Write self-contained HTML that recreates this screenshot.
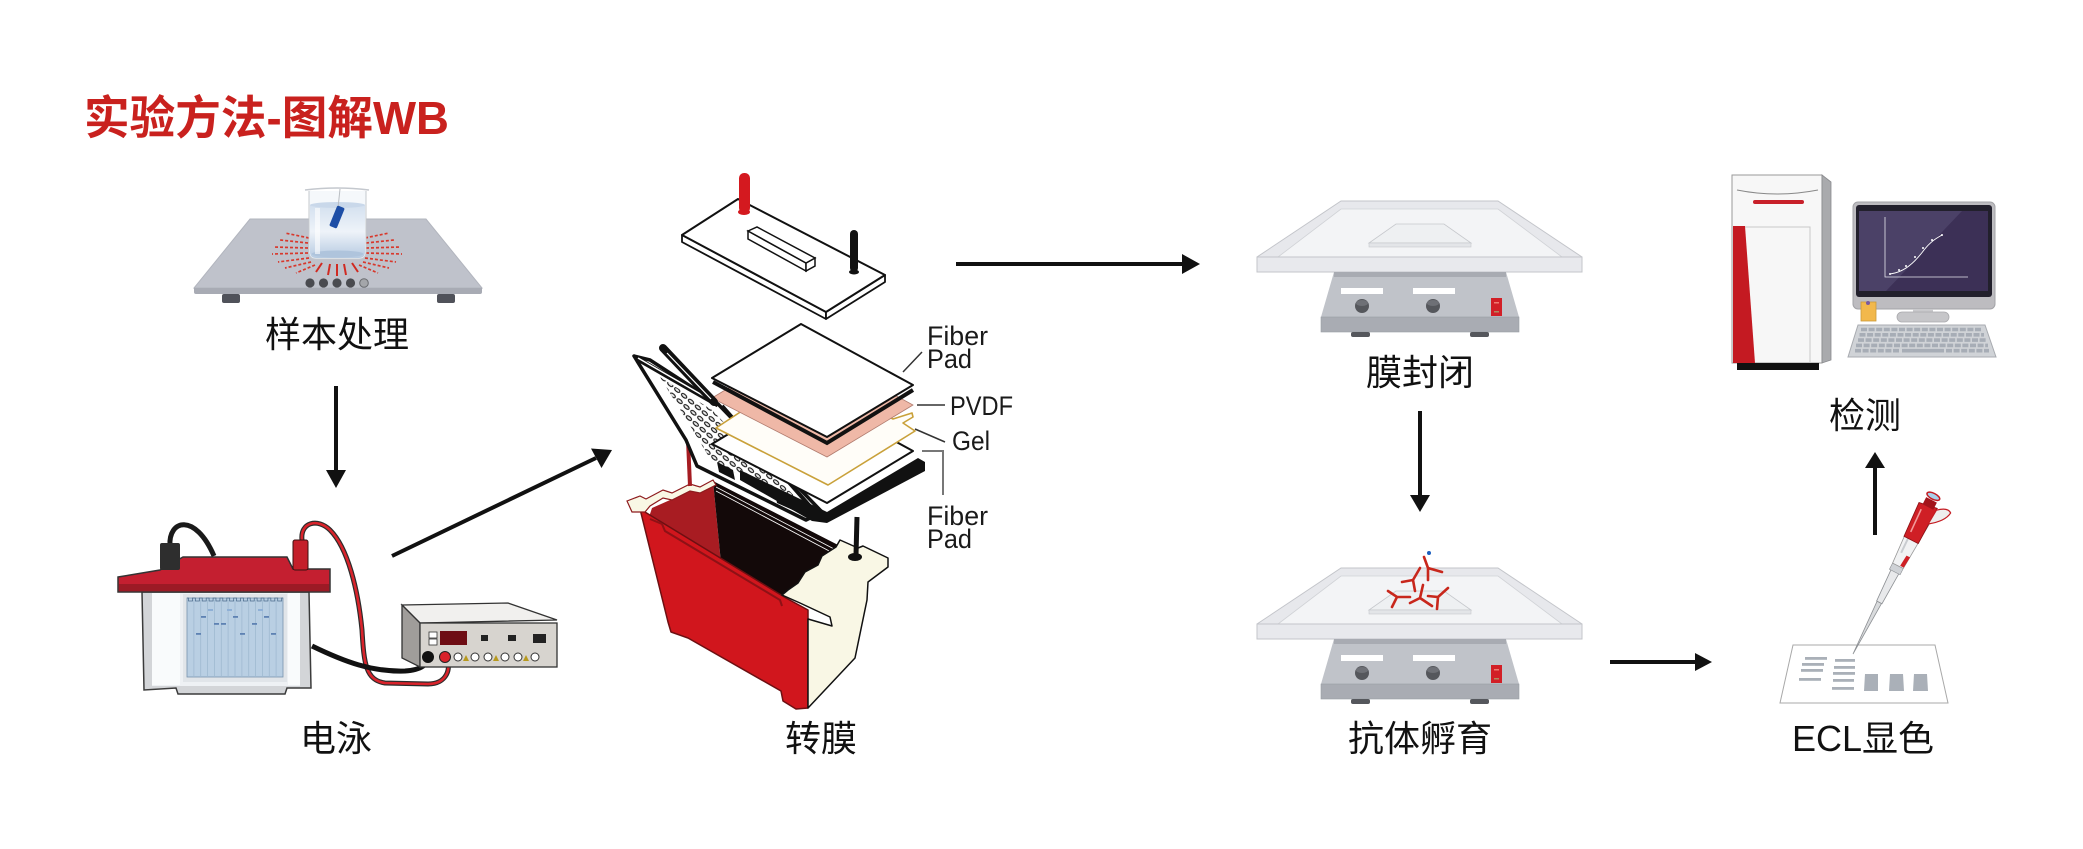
<!DOCTYPE html>
<html><head><meta charset="utf-8">
<style>
html,body{margin:0;padding:0;background:#fff;}
svg{display:block;}
text{font-family:"Liberation Sans","Noto Sans CJK SC",sans-serif;}
.lbl{font-size:36px;fill:#111;text-anchor:middle;}
.sm{font-size:27px;fill:#1a1a1a;}
</style></head><body>
<svg width="2083" height="849" viewBox="0 0 2083 849" xmlns="http://www.w3.org/2000/svg">
<defs>
<linearGradient id="water" x1="0" y1="0" x2="0" y2="1">
<stop offset="0" stop-color="#d3e0ef"/><stop offset="0.5" stop-color="#eef3f9"/><stop offset="1" stop-color="#b6cae1"/>
</linearGradient>
<pattern id="holes" width="9" height="7" patternUnits="userSpaceOnUse" patternTransform="rotate(40)">
<ellipse cx="4.5" cy="3.5" rx="3.2" ry="1.6" fill="#e8e8e8" stroke="#111" stroke-width="1"/>
</pattern>
</defs>

<!-- Title -->
<text x="84" y="134" font-size="46" font-weight="700" fill="#c9211e" textLength="365" lengthAdjust="spacingAndGlyphs">实验方法-图解WB</text>

<!-- ============ Hot plate ============ -->
<polygon points="250,219 426,219 482,288 194,288" fill="#bfc2cb" stroke="#b2b5be" stroke-width="1"/>
<path d="M194,288 L482,288 L482,292 Q482,294 480,294 L196,294 Q194,294 194,292 Z" fill="#a8abb4"/>
<rect x="222" y="294" width="18" height="9" rx="2" fill="#50525a"/>
<rect x="437" y="294" width="18" height="9" rx="2" fill="#50525a"/>
<g fill="#4a4b50"><circle cx="310" cy="283" r="4.6"/><circle cx="323.5" cy="283" r="4.6"/><circle cx="337" cy="283" r="4.6"/><circle cx="350.5" cy="283" r="4.6"/></g>
<circle cx="364" cy="283" r="4.3" fill="#a4a6aa" stroke="#6a6c70" stroke-width="1"/>
<g stroke="#d8382c" stroke-width="1.7" stroke-dasharray="3 2">
<line x1="309" y1="238" x2="285" y2="233"/><line x1="308" y1="243" x2="280" y2="240"/><line x1="308" y1="248" x2="273" y2="247"/><line x1="308" y1="253" x2="272" y2="254"/><line x1="309" y1="258" x2="278" y2="262"/><line x1="311" y1="262" x2="285" y2="268"/><line x1="315" y1="265" x2="296" y2="273"/>
<line x1="365" y1="238" x2="389" y2="233"/><line x1="366" y1="243" x2="394" y2="240"/><line x1="366" y1="248" x2="401" y2="247"/><line x1="366" y1="253" x2="402" y2="254"/><line x1="365" y1="258" x2="396" y2="262"/><line x1="363" y1="262" x2="389" y2="268"/><line x1="359" y1="265" x2="378" y2="273"/>
</g>
<g stroke="#d02a22" stroke-width="2">
<line x1="322" y1="263" x2="316" y2="272"/><line x1="330" y1="264" x2="328" y2="275"/><line x1="337" y1="264" x2="337" y2="276"/><line x1="344" y1="264" x2="346" y2="275"/><line x1="352" y1="263" x2="358" y2="272"/>
</g>
<!-- beaker -->
<path d="M309,191 L309,252 Q309,259 316,259 L359,259 Q366,259 366,252 L366,191" fill="#f5f8fb" stroke="#c4c8ce" stroke-width="1"/>
<path d="M310,205 L310,252 Q310,258 316,258 L359,258 Q365,258 365,252 L365,205 Z" fill="url(#water)"/>
<ellipse cx="337.5" cy="205" rx="27.5" ry="3" fill="#c9d8ea"/>
<ellipse cx="337.5" cy="254" rx="26" ry="3.5" fill="#afc4dc"/>
<rect x="315" y="208" width="5" height="46" fill="#fff" opacity="0.6"/>
<line x1="340" y1="189" x2="338" y2="208" stroke="#b9bdc2" stroke-width="1"/>
<path d="M305,190 Q337,186 369,190" fill="none" stroke="#c4c8ce" stroke-width="1.6"/>
<rect x="-4" y="-11" width="8" height="22" rx="1.5" fill="#1d4ea6" transform="translate(337,217) rotate(22)"/>
<text class="lbl" x="337" y="347">样本处理</text>

<!-- arrow down 1 -->
<line x1="336" y1="386" x2="336" y2="472" stroke="#111" stroke-width="4"/>
<polygon points="326,470 346,470 336,488" fill="#111"/>

<!-- ============ Electrophoresis ============ -->
<path d="M170,546 C168,520 195,512 214,556" fill="none" stroke="#1a1a1a" stroke-width="5"/>
<path d="M302,540 C300,522 318,518 330,530 C348,548 358,590 362,630 C364,665 366,680 385,683 L428,684 C447,684 452,668 446,657" fill="none" stroke="#2b2b2b" stroke-width="5"/>
<path d="M302,540 C300,522 318,518 330,530 C348,548 358,590 362,630 C364,665 366,680 385,683 L428,684 C447,684 452,668 446,657" fill="none" stroke="#d9232b" stroke-width="2.6"/>
<!-- tank -->
<path d="M142,592 L309,592 L311,688 L287,688 L285,694 L178,694 L176,688 L144,690 Z" fill="#d3d5d8" stroke="#3b3b3b" stroke-width="1.5"/>
<rect x="152" y="593" width="148" height="93" fill="#eef1f4"/>
<rect x="152" y="593" width="28" height="92" fill="#f9fbfc"/>
<rect x="288" y="593" width="12" height="92" fill="#f9fbfc"/>
<rect x="183" y="594" width="104" height="88" fill="#e1e5e9"/>
<rect x="187" y="598" width="96" height="79" fill="#b9cfe3" stroke="#7893ad" stroke-width="0.8"/>
<g stroke="#9fb9d1" stroke-width="0.8">
<line x1="193.9" y1="600" x2="193.9" y2="677"/><line x1="200.7" y1="600" x2="200.7" y2="677"/><line x1="207.6" y1="600" x2="207.6" y2="677"/><line x1="214.4" y1="600" x2="214.4" y2="677"/><line x1="221.3" y1="600" x2="221.3" y2="677"/><line x1="228.1" y1="600" x2="228.1" y2="677"/><line x1="235" y1="600" x2="235" y2="677"/><line x1="241.9" y1="600" x2="241.9" y2="677"/><line x1="248.7" y1="600" x2="248.7" y2="677"/><line x1="255.6" y1="600" x2="255.6" y2="677"/><line x1="262.4" y1="600" x2="262.4" y2="677"/><line x1="269.3" y1="600" x2="269.3" y2="677"/><line x1="276.1" y1="600" x2="276.1" y2="677"/>
</g>
<path d="M187,598 h1.5 v3 h4 v-3 h1.36 h1.5 v3 h4 v-3 h1.36 h1.5 v3 h4 v-3 h1.36 h1.5 v3 h4 v-3 h1.36 h1.5 v3 h4 v-3 h1.36 h1.5 v3 h4 v-3 h1.36 h1.5 v3 h4 v-3 h1.36 h1.5 v3 h4 v-3 h1.36 h1.5 v3 h4 v-3 h1.36 h1.5 v3 h4 v-3 h1.36 h1.5 v3 h4 v-3 h1.36 h1.5 v3 h4 v-3 h1.36 h1.5 v3 h4 v-3 h1.36 h1.5 v3 h4 v-3 h1.36" fill="none" stroke="#4f6f8f" stroke-width="0.8"/>
<g fill="#5e82b3">
<rect x="201" y="616" width="5" height="1.8"/><rect x="208" y="609" width="5" height="2" fill="#8fb0d6"/><rect x="214" y="623" width="5" height="1.8"/><rect x="221" y="623" width="5" height="1.8"/><rect x="227" y="609" width="5" height="2" fill="#8fb0d6"/><rect x="233" y="616" width="5" height="1.8"/><rect x="240" y="633" width="5" height="1.8"/><rect x="252" y="623" width="5" height="1.8"/><rect x="258" y="609" width="5" height="2" fill="#8fb0d6"/><rect x="264" y="616" width="5" height="1.8"/><rect x="271" y="633" width="5" height="1.8"/><rect x="196" y="633" width="5" height="1.8"/>
</g>
<!-- lid -->
<polygon points="118,577 160,570 183,557 287,557 293,569 330,569 330,592 118,592" fill="#c41f30" stroke="#333" stroke-width="1.5"/>
<polygon points="119,584 329,584 329,591 119,591" fill="#9c1a25"/>
<rect x="160" y="543" width="20" height="27" rx="2" fill="#2e2e2e"/>
<rect x="293" y="540" width="15" height="30" rx="2" fill="#c41f2a" stroke="#3a1010" stroke-width="1"/>
<!-- black lower cable -->
<path d="M312,646 C345,662 372,672 405,671 C422,670 428,664 428,657" fill="none" stroke="#111" stroke-width="5"/>
<!-- power supply -->
<polygon points="402,605 508,603 557,620 420,623" fill="#f1f0ee" stroke="#333" stroke-width="1.3"/>
<polygon points="402,605 420,623 420,667 402,658" fill="#a09d9a" stroke="#333" stroke-width="1.3"/>
<rect x="420" y="623" width="137" height="44" fill="#d7d4cf" stroke="#333" stroke-width="1.3"/>
<rect x="440" y="631" width="27" height="14" fill="#6e0d14"/>
<rect x="429" y="632" width="8" height="6" fill="#fff" stroke="#333" stroke-width="0.8"/>
<rect x="429" y="639" width="8" height="6" fill="#fff" stroke="#333" stroke-width="0.8"/>
<rect x="481" y="635" width="7" height="6" fill="#222"/>
<rect x="508" y="635" width="8" height="6" fill="#222"/>
<rect x="533" y="634" width="13" height="9" fill="#222"/>
<g fill="#fff" stroke="#333" stroke-width="1">
<circle cx="458" cy="657" r="4"/><circle cx="475" cy="657" r="4"/><circle cx="488" cy="657" r="4"/><circle cx="505" cy="657" r="4"/><circle cx="518" cy="657" r="4"/><circle cx="535" cy="657" r="4"/>
</g>
<g fill="#b89a20"><polygon points="463,661 469,661 466,655"/><polygon points="493,661 499,661 496,655"/><polygon points="523,661 529,661 526,655"/></g>
<circle cx="428" cy="657" r="6" fill="#111"/>
<circle cx="445" cy="657" r="5.5" fill="#d9232b" stroke="#222" stroke-width="1"/>
<text class="lbl" x="336" y="751">电泳</text>

<!-- diagonal arrow -->
<line x1="392" y1="556" x2="596" y2="458" stroke="#111" stroke-width="4"/>
<polygon points="612,450 601.5,468 591,448.5" fill="#111"/>

<!-- ============ Transfer ============ -->
<!-- lid plate -->
<polygon points="682,235 826,312 826,319 682,242" fill="#fff" stroke="#111" stroke-width="1.8" stroke-linejoin="round"/>
<polygon points="826,312 885,275 885,282 826,319" fill="#fff" stroke="#111" stroke-width="1.8" stroke-linejoin="round"/>
<polygon points="682,235 738,199 885,275 826,312" fill="#fff" stroke="#111" stroke-width="2" stroke-linejoin="round"/>
<polygon points="748,239 806,271 806,263 748,231" fill="#fff" stroke="#111" stroke-width="1.5"/>
<polygon points="806,263 815,258 815,266 806,271" fill="#fff" stroke="#111" stroke-width="1.5"/>
<polygon points="748,231 757,227 815,258 806,263" fill="#fff" stroke="#111" stroke-width="1.5"/>
<ellipse cx="744" cy="212" rx="6" ry="3" fill="#d4191f"/>
<rect x="739" y="173" width="11" height="40" rx="5" fill="#d4191f"/>
<ellipse cx="854" cy="272" rx="5" ry="2.5" fill="#111"/>
<rect x="850" y="230" width="8" height="42" rx="4" fill="#111"/>

<!-- tank -->
<polygon points="652,508 713,481 721,563 786,600 648,520" fill="#a81c22"/>
<polygon points="713,481 842,547 786,597 721,563" fill="#130909"/>
<polyline points="716,487 836,550" fill="none" stroke="#fff" stroke-width="0.8"/>
<polyline points="716,491 833,553" fill="none" stroke="#fff" stroke-width="0.8"/>
<polygon points="640,509 786,598 808,610 808,708 796,709 783,701 781,691 688,638 671,632 668,622" fill="#d1161d" stroke="#6d0f12" stroke-width="1.5" stroke-linejoin="round"/>
<polyline points="650,519 662,524 665,531 780,600 782,606" fill="none" stroke="#8e1116" stroke-width="2"/>
<polygon points="782,595 800,603 830,617 832,626 808,619 808,708 855,658 867,600 868,582 888,567 888,558 863,546 858,548 840,540 836,547 822,556 818,565 805,572 798,583 788,590" fill="#f9f7e5" stroke="#111" stroke-width="1.5" stroke-linejoin="round"/>
<ellipse cx="855" cy="557" rx="7" ry="4" fill="#111"/>
<polygon points="627,501 640,496 646,499 663,490 672,493 690,484 700,487 713,480 716,485 700,493 690,491 672,500 663,498 650,506 645,512 632,512" fill="#f9f7e5" stroke="#8d1a1d" stroke-width="1.2"/>
<line x1="688" y1="440" x2="690" y2="486" stroke="#a51c22" stroke-width="4"/>
<path d="M857,517 L856,555" stroke="#111" stroke-width="5" fill="none"/>

<!-- cassette flap -->
<polygon points="634,356 650,360 718,404 822,512 806,520 697,466 686,440" fill="#fff" stroke="#111" stroke-width="3.5" stroke-linejoin="round"/>
<polygon points="660,377 712,410 800,502 712,462 694,432" fill="url(#holes)"/>
<polygon points="717,462 733,470 735,480 719,472" fill="#111"/>
<polygon points="775,493 793,501 795,511 777,503" fill="#111"/>
<line x1="722" y1="406" x2="815" y2="512" stroke="#111" stroke-width="4"/>
<!-- bottom frame and pad -->
<polygon points="740,470 827,512 918,458 925,462 925,471 827,523 812,521 740,480" fill="#111"/>
<polygon points="712,444 801,390 913,451 827,503" fill="#fff" stroke="#111" stroke-width="2" stroke-linejoin="round"/>
<!-- gel -->
<polygon points="716,428 801,372 893,419 912,413 913,417 903,423 915,431 828,485" fill="#fffdf8" stroke="#c9a13a" stroke-width="1.6" stroke-linejoin="round"/>
<!-- PVDF -->
<polygon points="712,398 801,344 913,405 827,457" fill="#efb8a7" stroke="#b07b6e" stroke-width="0.8"/>
<!-- top pad -->
<polyline points="713,382 827,443 913,390" fill="none" stroke="#111" stroke-width="4"/>
<polygon points="712,378 801,324 913,385 827,437" fill="#fff" stroke="#111" stroke-width="2" stroke-linejoin="round"/>
<!-- handle strips -->
<line x1="636" y1="358" x2="718" y2="405" stroke="#111" stroke-width="5"/>
<line x1="638" y1="358" x2="716" y2="403" stroke="#fff" stroke-width="1.5"/>
<line x1="663" y1="348" x2="714" y2="402" stroke="#111" stroke-width="8" stroke-linecap="round"/>
<line x1="667" y1="353" x2="711" y2="399" stroke="#fff" stroke-width="1.2"/>

<!-- transfer labels -->
<line x1="903" y1="372" x2="922" y2="352" stroke="#333" stroke-width="1.5"/>
<line x1="917" y1="405" x2="945" y2="405" stroke="#333" stroke-width="1.5"/>
<line x1="915" y1="429" x2="945" y2="442" stroke="#333" stroke-width="1.5"/>
<polyline points="922,451 943,451 943,495" fill="none" stroke="#777" stroke-width="2"/>
<text class="sm" x="927" y="345" textLength="61" lengthAdjust="spacingAndGlyphs">Fiber</text>
<text class="sm" x="927" y="368" textLength="45" lengthAdjust="spacingAndGlyphs">Pad</text>
<text class="sm" x="950" y="415" textLength="63" lengthAdjust="spacingAndGlyphs">PVDF</text>
<text class="sm" x="952" y="450" textLength="38" lengthAdjust="spacingAndGlyphs">Gel</text>
<text class="sm" x="927" y="525" textLength="61" lengthAdjust="spacingAndGlyphs">Fiber</text>
<text class="sm" x="927" y="548" textLength="45" lengthAdjust="spacingAndGlyphs">Pad</text>
<text class="lbl" x="821" y="751">转膜</text>

<!-- top horizontal arrow -->
<line x1="956" y1="264" x2="1184" y2="264" stroke="#111" stroke-width="4"/>
<polygon points="1182,254 1200,264 1182,274" fill="#111"/>

<!-- ============ Shaker ============ -->
<g id="shaker">
<polygon points="1341,201 1498,201 1582,257 1582,272 1257,272 1257,257" fill="#e7e8ec" stroke="#c3c5ca" stroke-width="1"/>
<polygon points="1341,209 1498,209 1562,257 1278,257" fill="#f3f4f6" stroke="#d0d2d6" stroke-width="0.8"/>
<rect x="1257" y="257" width="325" height="15" fill="#e8e9ed" stroke="#c3c5ca" stroke-width="1"/>
<polygon points="1396,224 1444,224 1471,243 1369,243" fill="#eef0f2" stroke="#c6c8cc" stroke-width="0.8"/>
<rect x="1369" y="243" width="102" height="4" fill="#e3e5e8" stroke="#c6c8cc" stroke-width="0.6"/>
<polygon points="1334,272 1506,272 1519,317 1321,317" fill="#c0c3c9"/>
<rect x="1334" y="272" width="172" height="5" fill="#a8abb2"/>
<rect x="1321" y="317" width="198" height="15" fill="#a9acb3" stroke="#9a9da4" stroke-width="0.6"/>
<rect x="1341" y="288" width="42" height="6" fill="#fff"/>
<rect x="1413" y="288" width="42" height="6" fill="#fff"/>
<circle cx="1362" cy="306" r="7" fill="#55575c"/><ellipse cx="1362" cy="303" rx="6" ry="3" fill="#6e7076"/>
<circle cx="1433" cy="306" r="7" fill="#55575c"/><ellipse cx="1433" cy="303" rx="6" ry="3" fill="#6e7076"/>
<rect x="1491" y="298" width="11" height="18" fill="#d21f26"/>
<rect x="1494" y="302" width="5" height="1.5" fill="#f07a70"/><rect x="1494" y="311" width="5" height="1.5" fill="#b08a60"/>
<rect x="1351" y="332" width="19" height="5" rx="2" fill="#55575c"/>
<rect x="1470" y="332" width="19" height="5" rx="2" fill="#55575c"/>
</g>
<use href="#shaker" x="0" y="367"/>
<text class="lbl" x="1420" y="385">膜封闭</text>

<!-- arrow down 2 -->
<line x1="1420" y1="411" x2="1420" y2="497" stroke="#111" stroke-width="4"/>
<polygon points="1410,495 1430,495 1420,512" fill="#111"/>

<!-- antibodies -->
<g stroke="#c8271c" stroke-width="2.6" stroke-linecap="round" fill="none">
<path d="M1424,557 L1428,568 L1442,572 M1428,568 L1428,580"/>
<path d="M1420,568 L1413,580 L1402,582 M1413,580 L1415,591"/>
<path d="M1423,585 L1420,598 L1410,603 M1420,598 L1432,606"/>
<path d="M1388,591 L1397,597 L1410,597 M1397,597 L1392,607"/>
<path d="M1448,588 L1438,597 L1428,596 M1438,597 L1437,609"/>
</g>
<circle cx="1429" cy="553" r="2" fill="#1c5fbf"/>
<text class="lbl" x="1420" y="751">抗体孵育</text>

<!-- bottom horizontal arrow -->
<line x1="1610" y1="662" x2="1697" y2="662" stroke="#111" stroke-width="4"/>
<polygon points="1695,653 1712,662 1695,671" fill="#111"/>

<!-- ============ ECL ============ -->
<polygon points="1793,645 1935,645 1948,703 1780,703" fill="#fff" stroke="#a8a8a8" stroke-width="1"/>
<g fill="#aab0b8">
<rect x="1805" y="657" width="22" height="2.8"/><rect x="1802" y="663" width="22" height="2.8"/><rect x="1801" y="669" width="22" height="2.8"/><rect x="1799" y="678" width="22" height="2.8"/>
<rect x="1835" y="659" width="20" height="2.8"/><rect x="1834" y="666" width="21" height="2.8"/><rect x="1833" y="672" width="22" height="2.8"/><rect x="1833" y="679" width="21" height="2.8"/><rect x="1832" y="687" width="22" height="2.8"/>
<polygon points="1865,674 1878,674 1878,691 1864,691"/><polygon points="1890,674 1903,674 1904,691 1889,691"/><polygon points="1914,674 1927,674 1928,691 1913,691"/>
</g>
<g transform="translate(1853,654) rotate(-63)">
<polygon points="0,0 58,-2.5 58,2.5" fill="#d9dbdd" stroke="#8c8f93" stroke-width="0.8"/>
<polygon points="58,-3 95,-4.5 95,4.5 58,3" fill="#e8e9eb" stroke="#8c8f93" stroke-width="0.8"/>
<rect x="92" y="-6" width="7" height="12" fill="#cfd2d6" stroke="#8c8f93" stroke-width="0.6"/>
<path d="M99,-6 L150,-9 L150,9 L99,6 Z" fill="#f1f2f3" stroke="#999" stroke-width="0.8"/>
<path d="M100,2 L112,3 L112,7 L100,6 Z" fill="#cf1f25"/>
<path d="M112,-3 L148,-4" stroke="#c9ccd0" stroke-width="2"/>
<path d="M128,-8 L165,-10 L168,9 L128,8 Z" fill="#cf1f25" stroke="#8a1014" stroke-width="0.8"/>
<path d="M135,-4 L160,-5" stroke="#f29a9a" stroke-width="1.6"/>
<path d="M150,8 Q160,22 170,23 Q174,18 166,9 Z" fill="#eee" stroke="#c41c22" stroke-width="1.2"/>
<rect x="165" y="-6" width="8" height="12" fill="#a3151b"/>
<ellipse cx="177" cy="0" rx="3" ry="7" fill="#a9d0ea" stroke="#c41c22" stroke-width="1.5"/>
</g>
<text class="lbl" x="1863" y="751">ECL显色</text>

<!-- up arrow -->
<line x1="1875" y1="535" x2="1875" y2="466" stroke="#111" stroke-width="4"/>
<polygon points="1865,468 1885,468 1875,452" fill="#111"/>

<!-- ============ Computer ============ -->
<rect x="1732" y="175" width="90" height="188" fill="#f7f7f7" stroke="#9a9a9a" stroke-width="1"/>
<polygon points="1822,175 1831,182 1831,360 1822,363" fill="#a9aaad" stroke="#8a8b8e" stroke-width="0.8"/>
<path d="M1737,190 Q1777,198 1818,190" fill="none" stroke="#888" stroke-width="1"/>
<rect x="1753" y="200" width="51" height="4" rx="2" fill="#c8202a"/>
<polyline points="1745,227 1810,227 1810,363" fill="none" stroke="#c8c8c8" stroke-width="1"/>
<polygon points="1733,226 1745,226 1755,363 1733,363" fill="#c41a22"/>
<rect x="1737" y="363" width="82" height="7" fill="#111"/>
<rect x="1853" y="202" width="142" height="107" rx="5" fill="#bdbcc0" stroke="#a3a3a7" stroke-width="1"/>
<rect x="1856" y="205" width="136" height="92" rx="3" fill="#22202c"/>
<rect x="1859" y="211" width="129" height="80" fill="#3c3056"/>
<polygon points="1859,211 1962,211 1886,291 1859,291" fill="#4b4167"/>
<polyline points="1885,217 1885,277 1968,277" fill="none" stroke="#e6e6ee" stroke-width="0.8"/>
<path d="M1890,274 C1905,272 1915,262 1924,250 C1931,241 1937,238 1942,235" fill="none" stroke="#fff" stroke-width="0.9"/>
<g fill="#fff"><circle cx="1890" cy="274" r="1"/><circle cx="1899" cy="270" r="1"/><circle cx="1906" cy="266" r="1"/><circle cx="1915" cy="257" r="1"/><circle cx="1923" cy="248" r="1"/><circle cx="1932" cy="240" r="1"/><circle cx="1942" cy="235" r="1"/></g>
<rect x="1913" y="309" width="20" height="4" fill="#c9c9cc"/>
<rect x="1897" y="312" width="52" height="10" rx="5" fill="#c6c6c9" stroke="#a9a9ad" stroke-width="0.8"/>
<rect x="1861" y="302" width="15" height="19" fill="#f2b84b" stroke="#c99a3a" stroke-width="0.8"/>
<circle cx="1868" cy="303" r="2" fill="#7a5aa0"/>
<polygon points="1858,325 1985,325 1996,357 1848,357" fill="#d0d3d7" stroke="#a8abb0" stroke-width="1"/>
<g stroke="#a7adb6" stroke-width="3.6" stroke-dasharray="6 1.6">
<line x1="1861" y1="329.5" x2="1982" y2="329.5"/>
<line x1="1859.5" y1="334.8" x2="1984" y2="334.8"/>
<line x1="1858" y1="340.1" x2="1986" y2="340.1"/>
<line x1="1856" y1="345.4" x2="1988" y2="345.4"/>
</g>
<g stroke="#a7adb6" stroke-width="3.6">
<line x1="1855" y1="350.7" x2="1900" y2="350.7" stroke-dasharray="6 1.6"/>
<line x1="1902" y1="350.7" x2="1944" y2="350.7"/>
<line x1="1946" y1="350.7" x2="1989" y2="350.7" stroke-dasharray="6 1.6"/>
</g>
<text class="lbl" x="1865" y="428">检测</text>
</svg>
</body></html>
